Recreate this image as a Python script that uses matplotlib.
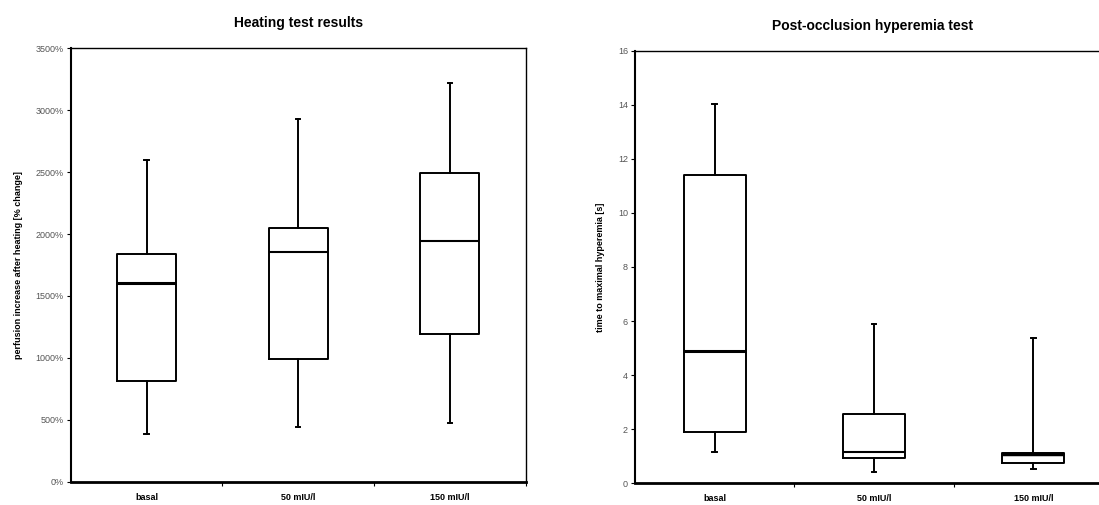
import matplotlib.pyplot as plt
import numpy as np

plt.rcParams['font.family'] = ['Liberation Sans', 'DejaVu Sans']

groups = ["basal", "50 mIU/l", "150 mIU/l"]

# heating test: % change
heat_low = [386, 440, 477]
heat_q1 = [816, 994, 1192]
heat_med = [1604, 1851, 1946]
heat_q3 = [1841, 2048, 2493]
heat_high = [2600, 2932, 3221]

# post-occlusion: seconds
hyp_low = [1.15, 0.43, 0.52]
hyp_q1 = [1.91, 0.95, 0.76]
hyp_med = [4.90, 1.17, 1.08]
hyp_q3 = [11.40, 2.56, 1.12]
hyp_high = [14.03, 5.88, 5.38]


def make_stats(low, q1, med, q3, high):
    out = []
    for i in range(len(low)):
        out.append(dict(whislo=low[i], q1=q1[i], med=med[i], q3=q3[i],
                        whishi=high[i], fliers=[]))
    return out


def draw(ax, stats, ylim, yticks, yticklabels, ylabel, med_lw):
    pos = np.arange(len(groups)) + 0.5
    parts = ax.bxp(stats, positions=pos, widths=0.39, showfliers=False,
                   boxprops=dict(color="black", lw=1.4),
                   medianprops=dict(color="black", lw=2),
                   whiskerprops=dict(color="black", lw=1.4),
                   capprops=dict(color="black", lw=1.4), capwidths=0.03)
    for line, lw in zip(parts["medians"], med_lw):
        line.set_linewidth(lw)
    ax.set_xlim(0, len(groups))
    ax.set_ylim(*ylim)
    ax.set_yticks(yticks)
    ax.set_yticklabels(yticklabels, fontsize=6.5, color="#555555")
    ax.set_xticks([1, 2, 3])
    ax.set_xticklabels([])
    ax.set_xticks(pos, minor=True)
    ax.set_xticklabels(groups, minor=True, fontsize=6.5, fontweight="bold")
    ax.tick_params(axis="x", which="minor", length=0, pad=8)
    ax.tick_params(axis="x", which="major", length=3, direction="out")
    ax.tick_params(axis="y", length=3, direction="out", pad=2)
    ax.set_ylabel(ylabel, fontsize=6.5, fontweight="bold", labelpad=9)
    for s in ax.spines.values():
        s.set_linewidth(1.0)
    ax.spines["left"].set_linewidth(1.5)
    ax.spines["bottom"].set_linewidth(2)


fig = plt.figure(figsize=(10.99, 5.05), dpi=100)
W, H = 1099, 505
ax1 = fig.add_axes([70.7 / W, 1 - 481.7 / H, 455 / W, 433.4 / H])
ax2 = fig.add_axes([635 / W, 1 - 483.3 / H, 478 / W, 432.6 / H])

draw(ax1, make_stats(heat_low, heat_q1, heat_med, heat_q3, heat_high),
     (0, 3500), np.arange(0, 3501, 500),
     [f"{v}%" for v in range(0, 3501, 500)],
     "perfusion increase after heating [% change]", [2.2, 1.5, 1.5])
draw(ax2, make_stats(hyp_low, hyp_q1, hyp_med, hyp_q3, hyp_high),
     (0, 16), np.arange(0, 17, 2), [str(v) for v in range(0, 17, 2)],
     "time to maximal hyperemia [s]", [2.2, 1.5, 2.5])

ax1.set_title("Heating test results", fontsize=10, fontweight="bold", pad=15)
ax2.set_title("Post-occlusion hyperemia test", fontsize=10, fontweight="bold",
              pad=15, x=(873 - 635) / 478)

fig.savefig("out.png", dpi=100)
